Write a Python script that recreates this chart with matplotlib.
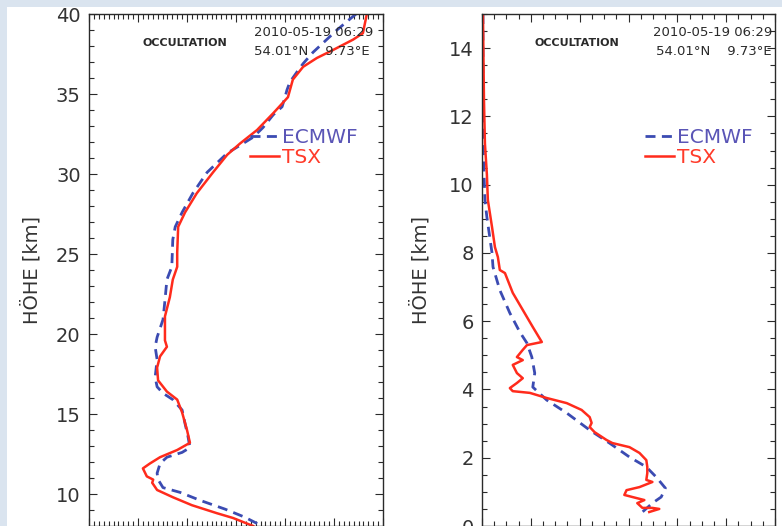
import matplotlib
matplotlib.use("Agg")
import matplotlib.pyplot as plt
from matplotlib.patches import Rectangle
from matplotlib.ticker import MultipleLocator

# left panel: temperature [K] vs height [km]
tsx_t_temp = [256.7, 255.9, 253.9, 249.8, 246.5, 243.7, 241.6, 240.6, 237.6, 234.3,
              230.8, 228.2, 225.3, 222.0, 219.6, 218.2, 218.0, 218.0, 217.1, 216.5,
              215.5, 215.5, 215.9, 214.5, 213.9, 214.1, 215.9, 218.0, 219.0, 220.0,
              220.6, 218.0, 214.5, 212.4, 211.0, 211.8, 213.1, 212.9, 213.9, 217.1,
              221.0, 226.1, 229.4, 233.5]
tsx_h_temp = [40.0, 38.8, 38.4, 37.75, 37.25, 36.7, 35.9, 34.8, 33.8, 32.75,
              31.9, 31.2, 30.1, 28.8, 27.6, 26.7, 25.1, 24.2, 23.4, 22.3,
              21.1, 19.6, 19.2, 18.6, 17.9, 17.1, 16.4, 15.9, 15.1, 14.0,
              13.2, 12.75, 12.3, 11.9, 11.6, 11.1, 10.9, 10.7, 10.25, 9.8,
              9.3, 8.8, 8.5, 8.0]
ecm_t_temp = [254.5, 253.7, 250.6, 245.7, 243.7, 242.5, 241.0, 240.4, 240.0, 239.4,
              237.6, 235.5, 233.5, 231.4, 228.2, 224.1, 221.2, 219.0, 217.6, 217.1,
              216.9, 215.9, 215.5, 215.1, 213.9, 213.5, 213.9, 213.5, 213.9, 215.1,
              217.1, 219.0, 219.6, 220.2, 220.6, 219.0, 215.9, 214.5, 213.9, 214.1,
              215.1, 218.6, 222.7, 227.8, 231.8, 235.3]
ecm_h_temp = [40.0, 39.8, 39.0, 37.6, 36.9, 36.4, 35.75, 35.25, 34.8, 34.2,
              33.7, 32.9, 32.3, 31.9, 31.3, 30.1, 28.8, 27.6, 26.7, 25.9,
              24.2, 23.4, 22.1, 20.9, 19.8, 19.2, 18.4, 17.3, 16.7, 16.3,
              15.9, 15.25, 14.4, 13.6, 12.9, 12.6, 12.3, 11.9, 11.3, 10.9,
              10.4, 10.1, 9.6, 9.05, 8.55, 8.0]

# right panel: water vapour pressure [hPa] vs height [km]
tsx_e = [0.04, 0.08, 0.12, 0.20, 0.24, 0.41, 0.53, 0.65, 0.73, 0.94,
         1.26, 1.67, 2.08, 2.45, 1.84, 1.67, 1.43, 1.67, 1.26, 1.43,
         1.67, 1.43, 1.14, 1.26, 1.96, 2.65, 3.47, 4.08, 4.41, 4.49,
         4.41, 4.61, 5.10, 5.34, 6.04, 6.45, 6.73, 6.77, 6.77, 6.73,
         6.98, 6.45, 5.92, 5.83, 6.32, 6.65, 6.36, 6.57, 6.98, 7.26, 6.85]
tsx_h_e = [15.0, 12.5, 11.2, 10.3, 9.55, 8.76, 8.17, 7.88, 7.5, 7.41,
           6.83, 6.33, 5.83, 5.39, 5.30, 5.16, 4.95, 4.86, 4.72, 4.48,
           4.33, 4.19, 4.04, 3.95, 3.90, 3.75, 3.60, 3.40, 3.19, 3.02,
           2.90, 2.75, 2.52, 2.43, 2.31, 2.14, 1.93, 1.73, 1.55, 1.35,
           1.29, 1.14, 1.05, 0.91, 0.82, 0.76, 0.67, 0.53, 0.53, 0.50, 0.41]
ecm_e = [0.04, 0.04, 0.12, 0.20, 0.41, 0.45, 0.73, 1.14, 1.55, 1.84,
         2.04, 2.16, 2.08, 2.65, 3.47, 4.41, 5.22, 6.04, 6.73, 7.14,
         7.51, 7.34, 6.98, 6.57]
ecm_h_e = [15.0, 11.2, 9.55, 9.05, 8.0, 7.59, 6.91, 6.24, 5.68, 5.36,
           4.95, 4.48, 4.07, 3.69, 3.31, 2.81, 2.43, 2.02, 1.73, 1.43,
           1.11, 0.85, 0.67, 0.41]

date_txt = "2010-05-19 06:29"
pos_txt = "54.01°N    9.73°E"

BLUE = "#3b4bb2"
RED = "#ff2b1c"
INK = "#2a2a2a"

fig = plt.figure(figsize=(7.82, 5.26), dpi=100, facecolor="#dae4ef")
fig.add_artist(Rectangle((7 / 782, 0), 1, 1 - 7 / 526, transform=fig.transFigure,
                         facecolor="white", edgecolor="none", zorder=0))

ax1 = fig.add_axes([89 / 782, 0, 294 / 782, 512 / 526])
ax2 = fig.add_axes([482 / 782, 0, 293 / 782, 512 / 526])

panels = [
    (ax1, tsx_t_temp, tsx_h_temp, ecm_t_temp, ecm_h_temp, (200, 260), (8, 40), 10, 1, 5, 1, 0.548, -0.197),
    (ax2, tsx_e, tsx_h_e, ecm_e, ecm_h_e, (0, 12), (0, 15), 2, 0.5, 2, 0.5, 0.556, -0.212),
]

for ax, tx, th, ex, eh, xl, yl, xmaj, xmin, ymaj, ymin, legx, labx in panels:
    l1, = ax.plot(ex, eh, color=BLUE, lw=2.0, dashes=(3.6, 2.3), label="ECMWF")
    l2, = ax.plot(tx, th, color=RED, lw=1.8, label="TSX")
    ax.set_xlim(*xl)
    ax.set_ylim(*yl)
    ax.xaxis.set_major_locator(MultipleLocator(xmaj))
    ax.xaxis.set_minor_locator(MultipleLocator(xmin))
    ax.yaxis.set_major_locator(MultipleLocator(ymaj))
    ax.yaxis.set_minor_locator(MultipleLocator(ymin))
    ax.tick_params(which="both", direction="in", top=True, right=True,
                   labelbottom=False, color=INK, width=0.8)
    ax.tick_params(which="major", length=6, labelsize=14, labelcolor="#333333", pad=6)
    ax.tick_params(which="minor", length=3.3)
    for s in ax.spines.values():
        s.set_color(INK)
        s.set_linewidth(1.0)

    ax.set_ylabel("HÖHE [km]", fontsize=14, color="#333333")
    ax.yaxis.set_label_coords(labx, 0.5)
    ax.yaxis.label.set_va("center")

    leg = ax.legend(handles=[l1, l2], loc="upper left", bbox_to_anchor=(legx, 0.777),
                    frameon=False, fontsize=14.5, handlelength=1.45, handletextpad=0.15,
                    labelspacing=0.02, borderpad=0, borderaxespad=0)
    leg.get_texts()[0].set_color("#5a55b6")
    leg.get_texts()[1].set_color("#ff3b2a")

    ax.text(0.325, 0.943, "OCCULTATION", transform=ax.transAxes, fontsize=8,
            fontweight="bold", color=INK, ha="center", va="center")

ax1.text(0.966, 0.963, date_txt, transform=ax1.transAxes, fontsize=9.5,
         color=INK, ha="right", va="center")
ax1.text(0.956, 0.926, pos_txt, transform=ax1.transAxes, fontsize=9.5,
         color=INK, ha="right", va="center")
ax2.text(0.990, 0.963, date_txt, transform=ax2.transAxes, fontsize=9.5,
         color=INK, ha="right", va="center")
ax2.text(0.990, 0.926, pos_txt, transform=ax2.transAxes, fontsize=9.5,
         color=INK, ha="right", va="center")

fig.savefig("out.png", dpi=100, facecolor=fig.get_facecolor())
